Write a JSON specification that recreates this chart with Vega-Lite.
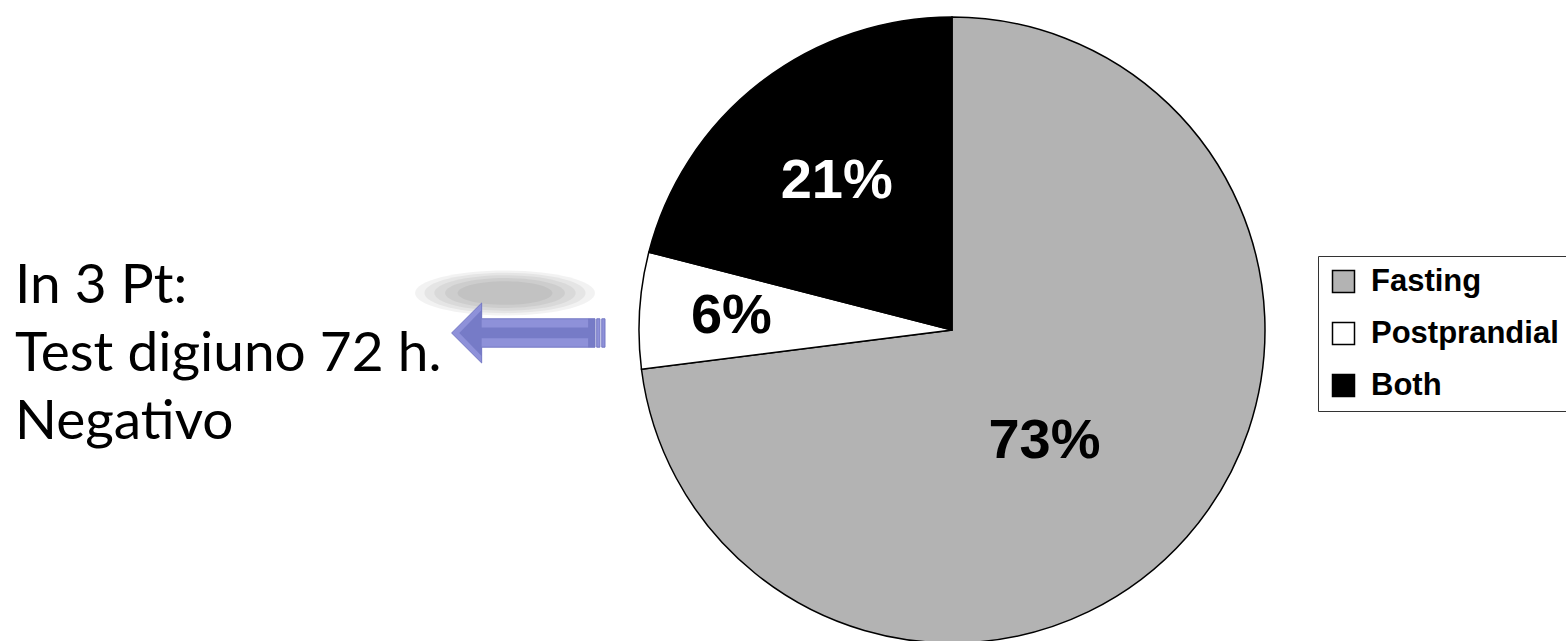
{
  "$schema": "https://vega.github.io/schema/vega-lite/v6.json",
  "padding": {"left": 0, "top": 14, "right": 0, "bottom": 0},
  "background": "white",
  "spacing": 0,
  "config": {"view": {"stroke": null}},
  "hconcat": [
    {
      "width": 636,
      "height": 626,
      "layer": [
        {
          "data": {"values": [{"item": "shadow", "s": 32400}, {"item": "shadow", "s": 26000}, {"item": "shadow", "s": 20000}, {"item": "shadow", "s": 14400}, {"item": "shadow", "s": 9000}]},
          "mark": {"type": "point", "filled": true, "color": "#000000", "opacity": 0.05, "strokeWidth": 0,
            "shape": "M-1,0 C-1,-0.138 -0.552,-0.25 0,-0.25 C0.552,-0.25 1,-0.138 1,0 C1,0.138 0.552,0.25 0,0.25 C-0.552,0.25 -1,0.138 -1,0 Z"},
          "encoding": {
            "x": {"datum": 505, "type": "quantitative", "scale": {"domain": [0, 636], "nice": false, "zero": false}, "axis": null},
            "y": {"datum": 0.853, "type": "quantitative", "scale": {"domain": [-3.2059, 6.0], "reverse": true, "nice": false, "zero": false}, "axis": null},
            "size": {"field": "s", "type": "quantitative", "scale": null}
          }
        },
        {
          "data": {"values": [{"item": "arrow"}]},
          "mark": {"type": "point", "filled": true, "fill": "#8e91d9", "stroke": "#7478c4", "strokeWidth": 1, "opacity": 1,
            "shape": "M-1,0 L-0.608,-0.391 L-0.608,-0.185 L0.87,-0.185 L0.87,0.185 L-0.608,0.185 L-0.608,0.391 Z M0.892,-0.185 L0.934,-0.185 L0.934,0.185 L0.892,0.185 Z M0.958,-0.185 L1,-0.185 L1,0.185 L0.958,0.185 Z",
            "size": 23530},
          "encoding": {
            "x": {"datum": 528.3, "type": "quantitative", "scale": {"domain": [0, 636], "nice": false, "zero": false}, "axis": null},
            "y": {"datum": 1.441, "type": "quantitative", "scale": {"domain": [-3.2059, 6.0], "reverse": true, "nice": false, "zero": false}, "axis": null}
          }
        },
        {
          "data": {"values": [{"item": "arrow stripe"}]},
          "mark": {"type": "point", "filled": true, "fill": "#7175c2", "strokeWidth": 0, "opacity": 0.8,
            "shape": "M-0.9,0 L-0.608,-0.3 L-0.608,-0.07 L0.87,-0.07 L0.87,0.07 L-0.608,0.07 L-0.608,0.3 Z M0.78,-0.185 L0.87,-0.185 L0.87,0.185 L0.78,0.185 Z",
            "size": 23530},
          "encoding": {
            "x": {"datum": 528.3, "type": "quantitative", "scale": {"domain": [0, 636], "nice": false, "zero": false}, "axis": null},
            "y": {"datum": 1.441, "type": "quantitative", "scale": {"domain": [-3.2059, 6.0], "reverse": true, "nice": false, "zero": false}, "axis": null}
          }
        },
        {
          "data": {"values": [
            {"line": 1, "text": "In 3 Pt:"},
            {"line": 2, "text": "Test digiuno 72 h."},
            {"line": 3, "text": "Negativo"}
          ]},
          "mark": {"type": "text", "align": "left", "baseline": "alphabetic", "font": "Lato", "fontSize": 55, "color": "#000000"},
          "encoding": {
            "x": {"datum": 15, "type": "quantitative", "scale": {"domain": [0, 636], "nice": false, "zero": false}, "axis": null},
            "y": {"field": "line", "type": "quantitative", "scale": {"domain": [-3.2059, 6.0], "reverse": true, "nice": false, "zero": false}, "axis": null},
            "text": {"field": "text"}
          }
        }
      ]
    },
    {
      "width": 626,
      "height": 626,
      "data": {"values": [
        {"category": "Fasting", "pct": 73, "rank": 1, "label": "73%"},
        {"category": "Postprandial", "pct": 6, "rank": 2, "label": "6%"},
        {"category": "Both", "pct": 21, "rank": 3, "label": "21%"}
      ]},
      "encoding": {
        "theta": {"field": "pct", "type": "quantitative", "stack": true},
        "order": {"field": "rank", "type": "quantitative"}
      },
      "layer": [
        {
          "mark": {"type": "arc", "stroke": "#000000", "strokeWidth": 1.5},
          "encoding": {
            "color": {
              "field": "category", "type": "nominal",
              "scale": {"domain": ["Fasting", "Postprandial", "Both"], "range": ["#b3b3b3", "#ffffff", "#000000"]},
              "legend": {
                "title": null, "orient": "none", "legendX": 1318, "legendY": 239,
                "symbolType": "square", "symbolSize": 484, "symbolStrokeColor": "#000000", "symbolStrokeWidth": 1.5,
                "labelFont": "Liberation Sans", "labelFontWeight": "bold", "labelFontSize": 31, "labelColor": "#000000",
                "labelOffset": 12, "labelLimit": 400, "rowPadding": 20, "padding": 10,
                "strokeColor": "#333333", "fillColor": "#ffffff"
              }
            }
          }
        },
        {
          "mark": {
            "type": "text", "font": "Liberation Sans", "fontWeight": "bold", "fontSize": 56,
            "align": "center", "baseline": "middle",
            "radius": {"expr": "datum.category === 'Both' ? 188 : (datum.category === 'Postprandial' ? 221 : 142)"},
            "dx": {"expr": "datum.category === 'Fasting' ? -14 : 0"},
            "dy": {"expr": "datum.category === 'Fasting' ? 17 : 0"}
          },
          "encoding": {
            "text": {"field": "label"},
            "color": {"condition": {"test": "datum.category === 'Both'", "value": "#ffffff"}, "value": "#000000"}
          }
        }
      ]
    }
  ]
}
